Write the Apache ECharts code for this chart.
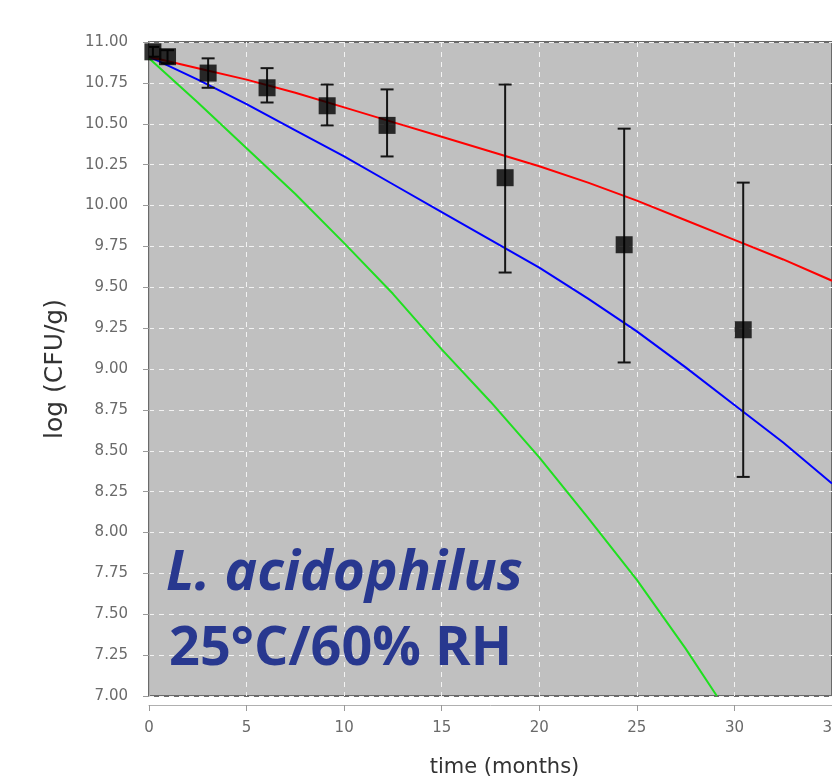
<!DOCTYPE html>
<html>
<head>
<meta charset="utf-8">
<script src="https://cdn.jsdelivr.net/npm/echarts@6/dist/echarts.min.js"></script>
<style>
  html, body { margin: 0; padding: 0; background: #fff; }
  #chart { width: 832px; height: 776px; }
</style>
</head>
<body>
<div id="chart"></div>
<script>
// measured samples (time in months, log CFU/g)
var sampleTime = [0.2, 0.95, 3.03, 6.05, 9.13, 12.2, 18.25, 24.35, 30.45];
var sampleMean = [10.94, 10.91, 10.81, 10.72, 10.61, 10.49, 10.17, 9.76, 9.24];
var sampleLow  = [10.91, 10.87, 10.72, 10.63, 10.49, 10.30, 9.59, 9.04, 8.34];
var sampleHigh = [10.97, 10.95, 10.90, 10.84, 10.74, 10.71, 10.74, 10.47, 10.14];

// model curves
var fitTime  = [0, 2.5, 5, 7.5, 10, 12.5, 15, 17.5, 20, 22.5, 25, 27.5, 30, 32.5, 35];
var redFit   = [10.91, 10.84, 10.77, 10.69, 10.60, 10.51, 10.42, 10.33, 10.24, 10.14, 10.03, 9.91, 9.79, 9.67, 9.54];
var blueFit  = [10.91, 10.77, 10.62, 10.46, 10.30, 10.13, 9.96, 9.79, 9.62, 9.43, 9.23, 9.01, 8.78, 8.55, 8.30];
var greenTime = [0, 2.5, 5, 7.5, 10, 12.5, 15, 17.5, 20, 22.5, 25, 27.5, 29.1];
var greenFit  = [10.90, 10.63, 10.35, 10.07, 9.77, 9.46, 9.12, 8.80, 8.46, 8.09, 7.71, 7.29, 7.00];

var xTicks = { min: 0, max: 35, step: 5 };
var yTicks = { min: 7, max: 11, step: 0.25 };

function pairs(xs, ys) {
    var out = [];
    for (var i = 0; i < xs.length; i++) {
        out.push([xs[i], ys[i]]);
    }
    return out;
}

var errData = [];
sampleTime.forEach(function (t, i) {
    errData.push([t, sampleLow[i], sampleHigh[i]]);
});

function renderErr(params, api) {
    var x = api.value(0);
    var top = api.coord([x, api.value(2)]);
    var bot = api.coord([x, api.value(1)]);
    var w = 6.5;
    var st = { stroke: '#151515', lineWidth: 2 };
    return {
        type: 'group',
        children: [
            { type: 'line', shape: { x1: top[0], y1: top[1], x2: bot[0], y2: bot[1] }, style: st },
            { type: 'line', shape: { x1: top[0] - w, y1: top[1], x2: top[0] + w, y2: top[1] }, style: st },
            { type: 'line', shape: { x1: bot[0] - w, y1: bot[1], x2: bot[0] + w, y2: bot[1] }, style: st }
        ]
    };
}

var myChart = echarts.init(document.getElementById('chart'));

var option = {
    animation: false,
    backgroundColor: '#ffffff',
    grid: {
        left: 149,
        right: 0,
        top: 42,
        bottom: 80,
        containLabel: false,
        outerBoundsMode: 'none',
        show: true,
        backgroundColor: '#c0c0c0',
        borderColor: '#6a6a6a',
        borderWidth: 2
    },
    xAxis: {
        type: 'value',
        min: xTicks.min,
        max: xTicks.max,
        interval: xTicks.step,
        offset: 9,
        name: 'time (months)',
        nameLocation: 'middle',
        nameGap: 52,
        nameTextStyle: { fontFamily: 'DejaVu Sans', fontSize: 21, color: '#333', padding: [0, 0, 0, 28] },
        axisLine: { lineStyle: { color: '#b0b0b0', width: 1 } },
        axisTick: { length: 6, lineStyle: { color: '#999' } },
        axisLabel: { fontFamily: 'DejaVu Sans', fontSize: 15, color: '#6a6a6a', margin: 16 },
        splitLine: { show: true, lineStyle: { color: '#f2f2f2', type: [5, 5], width: 1 } }
    },
    yAxis: {
        type: 'value',
        min: yTicks.min,
        max: yTicks.max,
        interval: yTicks.step,
        offset: 7,
        name: 'log (CFU/g)',
        nameLocation: 'middle',
        nameGap: 74,
        nameTextStyle: { fontFamily: 'DejaVu Sans', fontSize: 25, color: '#333' },
        axisLine: { show: true, lineStyle: { color: '#b0b0b0', width: 1 } },
        axisTick: { show: true, length: 6, lineStyle: { color: '#999' } },
        axisLabel: {
            fontFamily: 'DejaVu Sans', fontSize: 15, color: '#6a6a6a', margin: 14,
            formatter: function (v) { return v.toFixed(2); }
        },
        splitLine: { show: true, lineStyle: { color: '#f2f2f2', type: [5, 5], width: 1 } }
    },
    graphic: [
        {
            type: 'text', x: 166, y: 574, z: 50,
            style: {
                text: 'L. acidophilus', fill: '#28388f',
                font: 'italic bold 55px "Open Sans"', verticalAlign: 'middle'
            }
        },
        {
            type: 'text', x: 169, y: 650, z: 50,
            style: {
                text: '25°C/60% RH', fill: '#28388f',
                font: 'bold 54px "Open Sans"', verticalAlign: 'middle'
            }
        }
    ],
    series: [
        {
            name: 'green', type: 'line', data: pairs(greenTime, greenFit),
            smooth: false, showSymbol: false, clip: true,
            lineStyle: { color: '#1fe01f', width: 2 }
        },
        {
            name: 'blue', type: 'line', data: pairs(fitTime, blueFit),
            smooth: false, showSymbol: false, clip: true,
            lineStyle: { color: '#0000ff', width: 2 }
        },
        {
            name: 'red', type: 'line', data: pairs(fitTime, redFit),
            smooth: false, showSymbol: false, clip: true,
            lineStyle: { color: '#ff0000', width: 2 }
        },
        {
            name: 'error', type: 'custom', data: errData,
            renderItem: renderErr, clip: true,
            encode: { x: 0, y: [1, 2] }, z: 4
        },
        {
            name: 'samples', type: 'scatter', data: pairs(sampleTime, sampleMean),
            symbol: 'rect', symbolSize: 17, clip: true,
            itemStyle: { color: '#000' }, z: 5
        }
    ]
};

myChart.setOption(option);
</script>
</body>
</html>
